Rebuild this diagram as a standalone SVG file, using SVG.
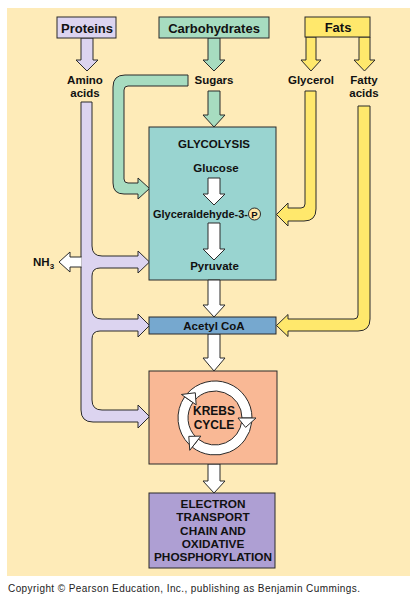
<svg xmlns="http://www.w3.org/2000/svg" width="418" height="600" viewBox="0 0 418 600">
<style>
.t{font-family:"Liberation Sans",Arial,Helvetica,sans-serif;font-weight:bold;fill:#111;text-anchor:middle}
.s{stroke:#2a2a2a;stroke-width:1;stroke-linejoin:miter}
.lav{fill:#DCD4F0}
.grn{fill:#A7DCC0}
.yel{fill:#FFE86C}
.wht{fill:#FFFFFF}
</style>
<rect x="0" y="0" width="418" height="600" fill="#FFFFFF"/>
<rect x="7" y="8" width="403" height="568" fill="#FEEBB8"/>

<g id="connectors">
  <path class="s lav" d="M81,38 V60 H76 L87,71 L98,60 H93 V38 Z"/>
  <path class="s grn" d="M208,38 V60 H203 L214,71 L225,60 H220 V38 Z"/>
  <path class="s yel" d="M306,37 V60 H301 L311,71 L321,60 H316 V37 Z"/>
  <path class="s yel" d="M359,37 V60 H354 L364.5,71 L375,60 H370 V37 Z"/>
  <path class="s grn" d="M208,91 V115 H203 L214,127 L225,115 H220 V91 Z"/>
  <path class="s grn" d="M188,75 H125 Q113,75 113,87 V183 Q113,194 124,194 H138 V199 L149.5,188.5 L138,178 V183 H128 Q124,183 124,179 V90 Q124,86 128,86 H188 Z"/>
  <path class="s lav" d="M81,102 H92 V246 Q92,256 102,256 H138 V251 L149.5,262 L138,273 V268 H100 Q92,268 92,276 V309 Q92,319 102,319 H138 V314 L149.5,325.5 L138,337 V331 H100 Q92,331 92,339 V400 Q92,410 102,410 H138 V405 L149.5,416.5 L138,428 V422 H93 Q81,422 81,410 Z"/>
  <path class="s wht" d="M81.5,257 H70 V252 L59,262 L70,272 V267 H81.5"/>
  <path class="s yel" d="M305,91 H316 V209 Q316,221 304,221 H288 V226 L276.5,214.5 L288,203 V208 H301 Q305,208 305,204 Z"/>
  <path class="s yel" d="M358,106 H370 V319 Q370,331 358,331 H288 V336.5 L276.5,325.5 L288,314.5 V319 H354 Q358,319 358,315 Z"/>
</g>

<g id="proteins">
  <rect class="s lav" x="57" y="17" width="59" height="21"/>
  <text class="t" x="87" y="32.5" font-size="13">Proteins</text>
</g>
<g id="carbohydrates">
  <rect class="s grn" x="159" y="17" width="110" height="21"/>
  <text class="t" x="214" y="32.5" font-size="13">Carbohydrates</text>
</g>
<g id="fats">
  <rect class="s yel" x="305" y="17" width="65" height="20"/>
  <text class="t" x="338" y="32" font-size="13">Fats</text>
</g>
<g id="amino-acids">
  <text class="t" x="85" y="83.5" font-size="11.5">Amino</text>
  <text class="t" x="85" y="97" font-size="11.5">acids</text>
</g>
<g id="sugars">
  <text class="t" x="214" y="83.5" font-size="11.5">Sugars</text>
</g>
<g id="glycerol">
  <text class="t" x="311" y="83.5" font-size="11.5">Glycerol</text>
</g>
<g id="fatty-acids">
  <text class="t" x="364" y="83.5" font-size="11.5">Fatty</text>
  <text class="t" x="364" y="97" font-size="11.5">acids</text>
</g>
<g id="nh3">
  <text class="t" x="33" y="266" font-size="11.5" style="text-anchor:start">NH<tspan font-size="8" dy="3">3</tspan></text>
</g>

<g id="glycolysis">
  <rect class="s" x="149" y="127" width="127" height="153" fill="#99D4D0"/>
  <text class="t" x="214" y="147.5" font-size="11.5">GLYCOLYSIS</text>
  <text class="t" x="216" y="172" font-size="11.5">Glucose</text>
  <path class="s wht" d="M208,178 V194 H203 L214,205 L225,194 H220 V178 Z"/>
  <text class="t" x="153" y="218" font-size="11.5" style="text-anchor:start" textLength="95" lengthAdjust="spacingAndGlyphs">Glyceraldehyde-3-</text>
  <circle class="s" cx="254.5" cy="214" r="6" fill="#FFE7A6"/>
  <text class="t" x="254.5" y="217.5" font-size="9.5">P</text>
  <path class="s wht" d="M208,223 V249 H203 L214,260 L225,249 H220 V223 Z"/>
  <text class="t" x="214.5" y="270" font-size="11.5">Pyruvate</text>
</g>
<g id="arrows-mid">
  <path class="s wht" d="M208,280 V305 H203 L214,317 L225,305 H220 V280 Z"/>
  <path class="s wht" d="M208,334 V358 H203 L214,371 L225,358 H220 V334 Z"/>
  <path class="s wht" d="M208,464 V481 H203 L214,493 L225,481 H220 V464 Z"/>
</g>
<g id="acetyl-coa">
  <rect class="s" x="149" y="317" width="127" height="17" fill="#76A8CF"/>
  <text class="t" x="214" y="329.5" font-size="11.5">Acetyl CoA</text>
</g>
<g id="krebs-cycle">
  <rect class="s" x="149" y="371" width="128" height="93" fill="#F9B895"/>
  <path class="s wht" d="M189.3,444.61 A37,37 0 0 1 184.69,396.78 L192.88,402.51 A27,27 0 0 0 196.24,437.42 Z"/>
  <path class="s wht" d="M187.08,393.72 A37,37 0 0 1 252,418 L242,418 A27,27 0 0 0 194.62,400.29 Z"/>
  <path class="s wht" d="M251.8,421.87 A37,37 0 0 1 192.22,447.16 L198.38,439.28 A27,27 0 0 0 241.85,420.82 Z"/>
  <path class="s wht" d="M181.41,394.48 L195.3,392.78 L196.16,404.81 Z"/>
  <path class="s wht" d="M256,418 L245.6,427.36 L238,418 Z"/>
  <path class="s wht" d="M189.76,450.31 L188.79,436.36 L200.84,436.12 Z"/>
  <text class="t" x="214" y="415" font-size="12">KREBS</text>
  <text class="t" x="214" y="429" font-size="12">CYCLE</text>
</g>
<g id="electron-transport">
  <rect class="s" x="149" y="493" width="126" height="75" fill="#AE9FD3"/>
  <text class="t" x="213" y="508" font-size="11.8">ELECTRON</text>
  <text class="t" x="213" y="521.3" font-size="11.8">TRANSPORT</text>
  <text class="t" x="213" y="534.6" font-size="11.8">CHAIN AND</text>
  <text class="t" x="213" y="547.9" font-size="11.8">OXIDATIVE</text>
  <text class="t" x="213" y="561.2" font-size="11.8">PHOSPHORYLATION</text>
</g>
<text x="8" y="592" font-family="'Liberation Sans',Arial,sans-serif" font-size="10" fill="#222" textLength="352">Copyright © Pearson Education, Inc., publishing as Benjamin Cummings.</text>
</svg>
